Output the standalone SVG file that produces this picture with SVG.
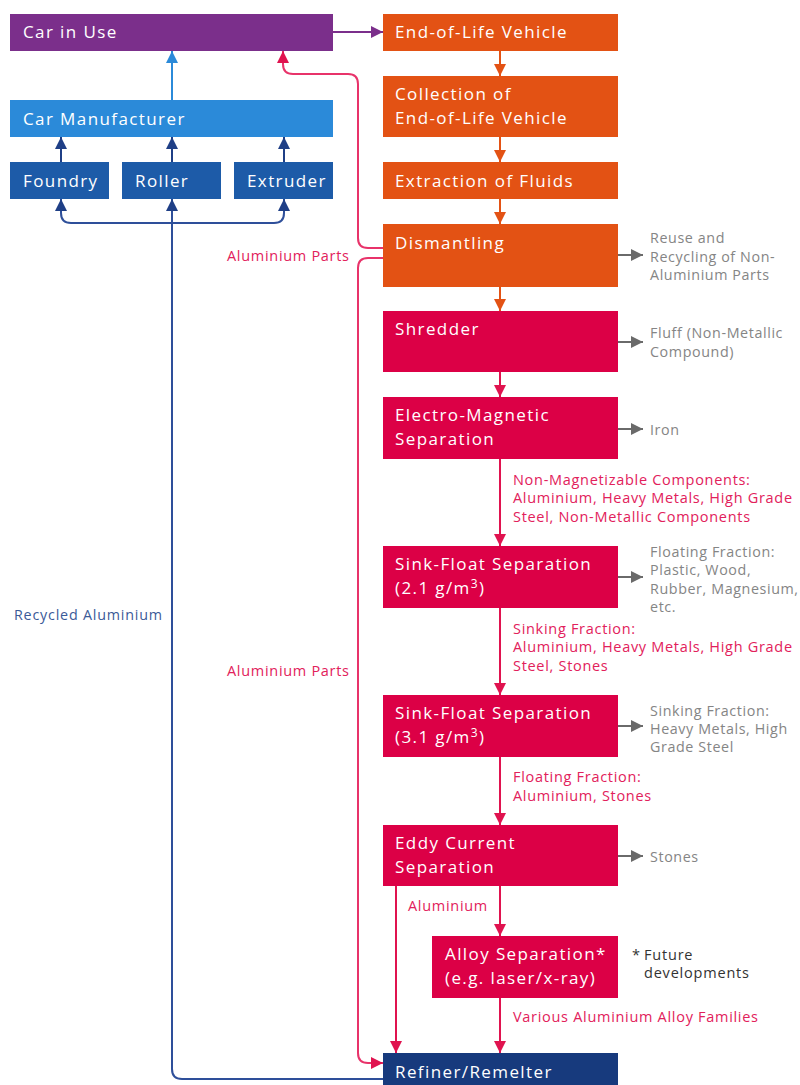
<svg xmlns="http://www.w3.org/2000/svg" width="800" height="1085" viewBox="0 0 800 1085">
<style>
.bt{font-family:"Open Sans","Liberation Sans",sans-serif;font-size:17px;font-weight:500;letter-spacing:1.4px;fill:#fff}
.gt{font-family:"Open Sans","Liberation Sans",sans-serif;font-size:14.3px;letter-spacing:0.6px;fill:#858585}
.pt{font-family:"Open Sans","Liberation Sans",sans-serif;font-size:14.5px;letter-spacing:0.7px;fill:#e2215b}
.kt{font-family:"Open Sans","Liberation Sans",sans-serif;font-size:14.5px;letter-spacing:0.8px;fill:#333}
.ln{fill:none;stroke-width:2}
</style>
<defs>
<marker id="aO" viewBox="0 0 12 12" refX="12" refY="6" markerWidth="12" markerHeight="12" orient="auto" markerUnits="userSpaceOnUse"><path d="M0,0 L12,6 L0,12 z" fill="#e35214"/></marker>
<marker id="aP" viewBox="0 0 12 12" refX="12" refY="6" markerWidth="12" markerHeight="12" orient="auto" markerUnits="userSpaceOnUse"><path d="M0,0 L12,6 L0,12 z" fill="#e0134f"/></marker>
<marker id="aG" viewBox="0 0 12 12" refX="12" refY="6" markerWidth="12" markerHeight="12" orient="auto" markerUnits="userSpaceOnUse"><path d="M0,0 L12,6 L0,12 z" fill="#6a6a6a"/></marker>
<marker id="aV" viewBox="0 0 12 12" refX="12" refY="6" markerWidth="12" markerHeight="12" orient="auto" markerUnits="userSpaceOnUse"><path d="M0,0 L12,6 L0,12 z" fill="#7b2f8b"/></marker>
<marker id="aL" viewBox="0 0 12 12" refX="12" refY="6" markerWidth="12" markerHeight="12" orient="auto" markerUnits="userSpaceOnUse"><path d="M0,0 L12,6 L0,12 z" fill="#2b8ad9"/></marker>
<marker id="aB" viewBox="0 0 12 12" refX="12" refY="6" markerWidth="12" markerHeight="12" orient="auto" markerUnits="userSpaceOnUse"><path d="M0,0 L12,6 L0,12 z" fill="#1f3f86"/></marker>
</defs>
<rect width="800" height="1085" fill="#fff"/>

<g id="connectors">
<path class="ln" stroke="#7b2f8b" d="M333,32 H383" marker-end="url(#aV)"/>
<path class="ln" stroke="#2b8ad9" d="M172,100 V51" marker-end="url(#aL)"/>
<path class="ln" stroke="#1f3f86" d="M61,162 V137" marker-end="url(#aB)"/>
<path class="ln" stroke="#1f3f86" d="M172,162 V137" marker-end="url(#aB)"/>
<path class="ln" stroke="#1f3f86" d="M284,162 V137" marker-end="url(#aB)"/>
<path class="ln" stroke="#2e4f9a" d="M172,223 H71 Q61,223 61,213 V199" marker-end="url(#aB)"/>
<path class="ln" stroke="#2e4f9a" d="M172,223 H274 Q284,223 284,213 V199" marker-end="url(#aB)"/>
<path class="ln" stroke="#2e4f9a" d="M383,1079 H182 Q172,1079 172,1069 V199" marker-end="url(#aB)"/>
<path class="ln" stroke="#e35214" d="M500,51 V76" marker-end="url(#aO)"/>
<path class="ln" stroke="#e35214" d="M500,137 V162" marker-end="url(#aO)"/>
<path class="ln" stroke="#e35214" d="M500,199 V224" marker-end="url(#aO)"/>
<path class="ln" stroke="#e35214" d="M500,287 V311" marker-end="url(#aO)"/>
<path class="ln" stroke="#e0134f" d="M500,372 V397" marker-end="url(#aP)"/>
<path class="ln" stroke="#e0134f" d="M500,459 V546" marker-end="url(#aP)"/>
<path class="ln" stroke="#e0134f" d="M500,608 V695" marker-end="url(#aP)"/>
<path class="ln" stroke="#e0134f" d="M500,757 V825" marker-end="url(#aP)"/>
<path class="ln" stroke="#e0134f" d="M500,886 V936" marker-end="url(#aP)"/>
<path class="ln" stroke="#e0134f" d="M500,998 V1053" marker-end="url(#aP)"/>
<path class="ln" stroke="#e0134f" d="M396,886 V1053" marker-end="url(#aP)"/>
<path class="ln" stroke="#e8336a" d="M383,248 H368 Q358,248 358,238 V84 Q358,74 348,74 H293 Q283,74 283,64 V51" marker-end="url(#aP)"/>
<path class="ln" stroke="#e8336a" d="M383,258 H368 Q358,258 358,268 V1053 Q358,1063 368,1063 H383" marker-end="url(#aP)"/>
<path class="ln" stroke="#6a6a6a" d="M618,255 H643" marker-end="url(#aG)"/>
<path class="ln" stroke="#6a6a6a" d="M618,342 H643" marker-end="url(#aG)"/>
<path class="ln" stroke="#6a6a6a" d="M618,429 H643" marker-end="url(#aG)"/>
<path class="ln" stroke="#6a6a6a" d="M618,577 H643" marker-end="url(#aG)"/>
<path class="ln" stroke="#6a6a6a" d="M618,726 H643" marker-end="url(#aG)"/>
<path class="ln" stroke="#6a6a6a" d="M618,856 H643" marker-end="url(#aG)"/>
</g>

<g id="car-in-use"><rect x="10" y="14" width="323" height="37" fill="#7b2f8b"/><text class="bt" x="23" y="38">Car in Use</text></g>
<g id="car-manufacturer"><rect x="10" y="100" width="323" height="37" fill="#2b8ad9"/><text class="bt" x="23" y="125">Car Manufacturer</text></g>
<g id="foundry"><rect x="10" y="162" width="99" height="37" fill="#1d5ba8"/><text class="bt" x="23" y="187">Foundry</text></g>
<g id="roller"><rect x="122" y="162" width="99" height="37" fill="#1d5ba8"/><text class="bt" x="135" y="187">Roller</text></g>
<g id="extruder"><rect x="234" y="162" width="99" height="37" fill="#1d5ba8"/><text class="bt" x="247" y="187">Extruder</text></g>

<g id="end-of-life"><rect x="383" y="14" width="235" height="37" fill="#e35214"/><text class="bt" x="395" y="38">End-of-Life Vehicle</text></g>
<g id="collection"><rect x="383" y="76" width="235" height="61" fill="#e35214"/><text class="bt" x="395" y="100">Collection of</text><text class="bt" x="395" y="124">End-of-Life Vehicle</text></g>
<g id="extraction"><rect x="383" y="162" width="235" height="37" fill="#e35214"/><text class="bt" x="395" y="187">Extraction of Fluids</text></g>
<g id="dismantling"><rect x="383" y="224" width="235" height="63" fill="#e35214"/><text class="bt" x="395" y="249">Dismantling</text></g>
<g id="shredder"><rect x="383" y="311" width="235" height="61" fill="#dc0046"/><text class="bt" x="395" y="335">Shredder</text></g>
<g id="electro-magnetic"><rect x="383" y="397" width="235" height="62" fill="#dc0046"/><text class="bt" x="395" y="421">Electro-Magnetic</text><text class="bt" x="395" y="445">Separation</text></g>
<g id="sink-float-1"><rect x="383" y="546" width="235" height="62" fill="#dc0046"/><text class="bt" x="395" y="570">Sink-Float Separation</text><text class="bt" x="395" y="594" font-weight="400">(2.1 g/m<tspan dy="-6" font-size="12">3</tspan><tspan dy="6">)</tspan></text></g>
<g id="sink-float-2"><rect x="383" y="695" width="235" height="62" fill="#dc0046"/><text class="bt" x="395" y="719">Sink-Float Separation</text><text class="bt" x="395" y="743" font-weight="400">(3.1 g/m<tspan dy="-6" font-size="12">3</tspan><tspan dy="6">)</tspan></text></g>
<g id="eddy-current"><rect x="383" y="825" width="235" height="61" fill="#dc0046"/><text class="bt" x="395" y="849">Eddy Current</text><text class="bt" x="395" y="873">Separation</text></g>
<g id="alloy-separation"><rect x="432" y="936" width="186" height="62" fill="#dc0046"/><text class="bt" x="445" y="960">Alloy Separation*</text><text class="bt" x="445" y="984" font-weight="400">(e.g. laser/x-ray)</text></g>
<g id="refiner"><rect x="383" y="1053" width="235" height="40" fill="#173a7d"/><text class="bt" x="395" y="1078">Refiner/Remelter</text></g>

<g id="labels">
<text class="gt" x="650" y="243">Reuse and</text>
<text class="gt" x="650" y="262">Recycling of Non-</text>
<text class="gt" x="650" y="280">Aluminium Parts</text>
<text class="gt" x="650" y="338">Fluff (Non-Metallic</text>
<text class="gt" x="650" y="357">Compound)</text>
<text class="gt" x="650" y="435">Iron</text>
<text class="gt" x="650" y="557">Floating Fraction:</text>
<text class="gt" x="650" y="575">Plastic, Wood,</text>
<text class="gt" x="650" y="594">Rubber, Magnesium,</text>
<text class="gt" x="650" y="612">etc.</text>
<text class="gt" x="650" y="716">Sinking Fraction:</text>
<text class="gt" x="650" y="734">Heavy Metals, High</text>
<text class="gt" x="650" y="752">Grade Steel</text>
<text class="gt" x="650" y="862">Stones</text>
<text class="pt" x="513" y="485">Non-Magnetizable Components:</text>
<text class="pt" x="513" y="503">Aluminium, Heavy Metals, High Grade</text>
<text class="pt" x="513" y="522">Steel, Non-Metallic Components</text>
<text class="pt" x="513" y="634">Sinking Fraction:</text>
<text class="pt" x="513" y="652">Aluminium, Heavy Metals, High Grade</text>
<text class="pt" x="513" y="671">Steel, Stones</text>
<text class="pt" x="513" y="782">Floating Fraction:</text>
<text class="pt" x="513" y="801">Aluminium, Stones</text>
<text class="pt" x="408" y="911">Aluminium</text>
<text class="pt" x="513" y="1022">Various Aluminium Alloy Families</text>
<text class="pt" x="227" y="261">Aluminium Parts</text>
<text class="pt" x="227" y="676">Aluminium Parts</text>
<text class="kt" x="632" y="960">*</text>
<text class="kt" x="644" y="960">Future</text>
<text class="kt" x="644" y="978">developments</text>
<text class="gt" x="14" y="620" style="fill:#3b5a98;letter-spacing:0.8px">Recycled Aluminium</text>
</g>
</svg>
